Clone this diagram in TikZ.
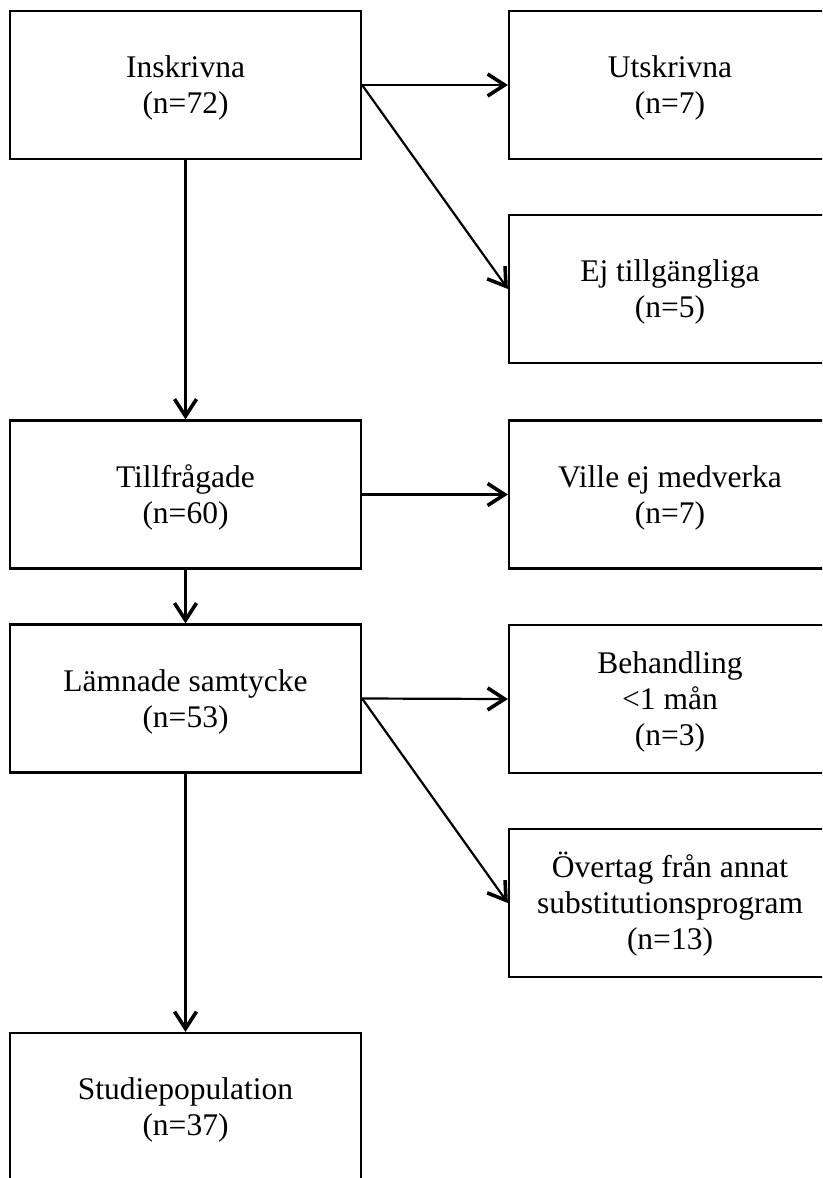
\documentclass[tikz,border=0pt]{standalone}
\usepackage{fontspec}
\setmainfont{Liberation Serif}
\usetikzlibrary{arrows.meta}
\newcommand{\topgap}{\rule{0pt}{28pt}}

\begin{document}
\begin{tikzpicture}[x=1pt, y=-1pt,
        box/.style={draw, line width=2.2pt, minimum height=148pt, inner sep=0pt, align=center, font=\fontsize{31.5}{36}\selectfont},
        leftbox/.style={box, minimum width=351pt},
        rightbox/.style={box, minimum width=322pt},
        flow/.style={line width=2.2pt, -{Straight Barb[length=17pt, width=22pt, line width=3.6pt]}}]
        \useasboundingbox (0,0) rectangle (822,1178);
        \clip (0,0) rectangle (822,1178);
        \node[leftbox] (insk) at (185.5,85) {\topgap Inskrivna\\(n=72)};
        \node[leftbox] (tillf) at (185.5,494.5) {\topgap Tillfrågade\\(n=60)};
        \node[leftbox] (samt) at (185.5,698.5) {\topgap Lämnade samtycke\\(n=53)};
        \node[leftbox] (studie) at (185.5,1107) {\topgap Studiepopulation\\(n=37)};
        \node[rightbox] (utsk) at (670,85) {\topgap Utskrivna\\(n=7)};
        \node[rightbox] (ejtill) at (670,289) {\topgap Ej tillgängliga\\(n=5)};
        \node[rightbox] (ville) at (670,494.5) {\topgap Ville ej medverka\\(n=7)};
        \node[rightbox] (behand) at (670,699) {\topgap Behandling\\<1 mån\\(n=3)};
        \node[rightbox] (overt) at (670,903) {\topgap Övertag från annat\\substitutionsprogram\\(n=13)};
        % main flow
        \draw[flow] (insk) -- (tillf);
        \draw[flow] (tillf) -- (samt);
        \draw[flow] (samt) -- (studie);
        % exclusions
        \draw[flow] (insk.east) -- (utsk.west);
        \draw[flow] (insk.east) -- (ejtill.west);
        \draw[flow] (tillf.east) -- (ville.west);
        \draw[flow] (samt.east) -- (behand.west);
        \draw[flow] (samt.east) -- (overt.west);
    \end{tikzpicture}
\end{document}
